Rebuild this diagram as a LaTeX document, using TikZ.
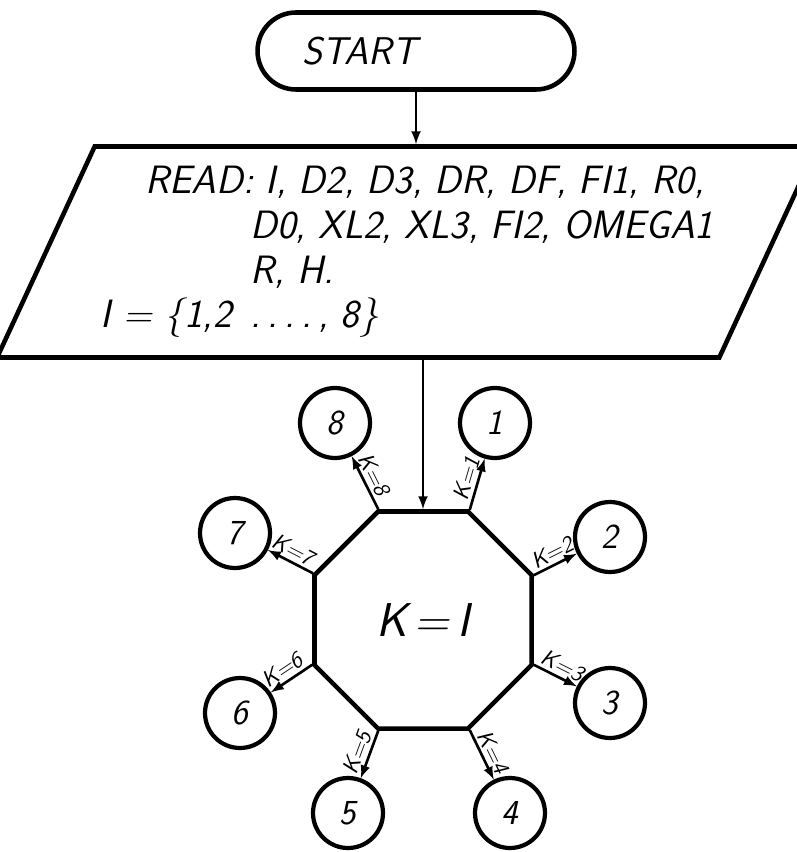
\documentclass[tikz,border=0pt]{standalone}
\usepackage{tikz}
\usetikzlibrary{shapes,arrows,positioning,calc}

\begin{document}
\begin{tikzpicture}[
    x=0.02cm, y=-0.02cm,
    terminal/.style={rectangle, draw, line width=2.6pt, rounded corners=0.77cm, minimum height=1.54cm, text width=4.54cm, inner xsep=0.9cm, align=left, font=\sffamily\slshape\fontsize{22}{26}\selectfont},
    io/.style={trapezium, trapezium left angle=62, trapezium right angle=118, trapezium stretches=true, draw, line width=2.6pt, minimum width=15.8cm, minimum height=4.22cm, align=left, font=\sffamily\slshape\fontsize{22.5}{25.5}\selectfont},
    octa/.style={regular polygon, regular polygon sides=8, draw, line width=2.6pt, minimum size=4.7cm, inner sep=0pt, font=\sffamily\slshape\fontsize{27}{30}\selectfont},
    conn/.style={circle, draw, line width=2.4pt, minimum size=1.4cm, inner sep=0pt, font=\sffamily\slshape\fontsize{20}{22}\selectfont},
    arr/.style={->, >=latex, line width=1.5pt},
    klabel/.style={sloped, above, pos=0.55, inner sep=1.5pt, font=\sffamily\slshape\fontsize{13}{14}\selectfont}
]
    \useasboundingbox (0,0) rectangle (796,852);

    % Start and input
    \node[terminal] (start) at (416,51) {START};
    \node[io]       (read)  at (407,252)
        {\hspace*{0.9cm}READ: I, D2, D3, DR, DF, FI1, R0,\\
         \hspace*{3cm}D0, XL2, XL3, FI2, OMEGA1\\
         \hspace*{3cm}R, H.\\
         I = \{1,2 \,.\,.\,.\,.\,, 8\}};

    % Branch on K
    \node[octa] (oct) at (423,620) {K\,=\,I};

    % Connectors 1..8
    \node[conn] (c1) at (495,423) {1};
    \node[conn] (c2) at (610,537) {2};
    \node[conn] (c3) at (610,703) {3};
    \node[conn] (c4) at (510,813) {4};
    \node[conn] (c5) at (348,813) {5};
    \node[conn] (c6) at (240,713) {6};
    \node[conn] (c7) at (235,533) {7};
    \node[conn] (c8) at (335,423) {8};

    % Main flow
    \draw[arr] (start.south) -- (start.south |- read.north);
    \draw[arr] (read.south -| oct.north) -- (oct.north);

    % Branches
    \draw[arr] (oct.67.5)   -- node[klabel] {K=1} (c1);
    \draw[arr] (oct.22.5)   -- node[klabel] {K=2} (c2);
    \draw[arr] (oct.-22.5)  -- node[klabel] {K=3} (c3);
    \draw[arr] (oct.-67.5)  -- node[klabel] {K=4} (c4);
    \draw[arr] (oct.-112.5) -- node[klabel] {K=5} (c5);
    \draw[arr] (oct.202.5)  -- node[klabel] {K=6} (c6);
    \draw[arr] (oct.157.5)  -- node[klabel] {K=7} (c7);
    \draw[arr] (oct.112.5)  -- node[klabel] {K=8} (c8);

\end{tikzpicture}
\end{document}
